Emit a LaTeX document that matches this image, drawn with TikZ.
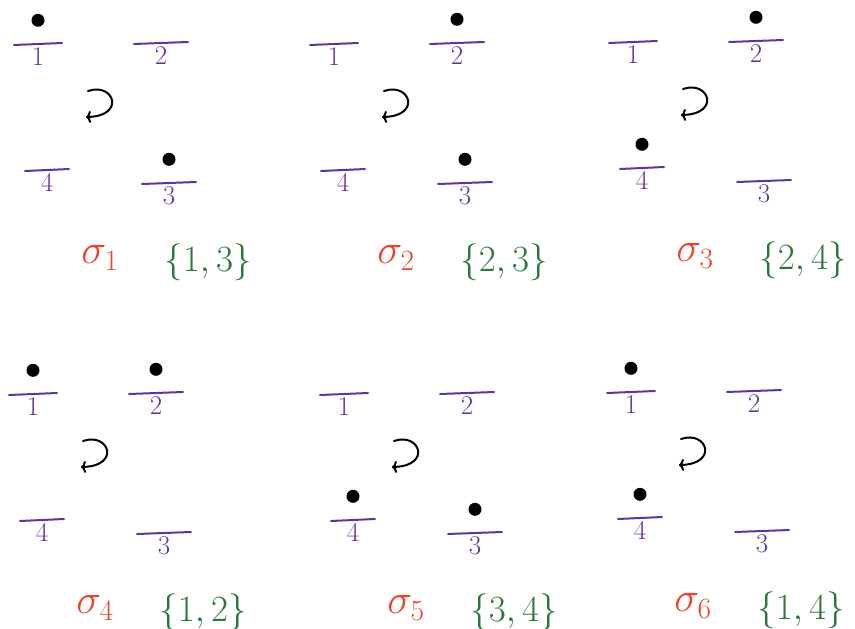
\RequirePackage{fix-cm}
\documentclass[tikz,border=0pt]{standalone}
\usepackage{amsmath}
\usepackage{tikz}
\usetikzlibrary{arrows.meta,positioning}
\definecolor{sitepurple}{RGB}{96,52,160}
\definecolor{sigmared}{RGB}{232,68,46}
\definecolor{setgreen}{RGB}{44,118,58}
\tikzset{
    site/.style={sitepurple,line width=2pt,line cap=round},
    sitelabel/.style={sitepurple,font=\fontsize{27}{32}\selectfont,inner sep=1pt},
    particle/.style={circle,fill=black,inner sep=0pt,minimum size=13pt},
    hop/.style={black,line width=2pt,line cap=round,-{To[length=5pt,width=12pt]}},
    perm/.style={sigmared,font=\fontsize{42}{48}\selectfont},
    occset/.style={setgreen,font=\fontsize{37}{44}\selectfont},
}

\begin{document}
\begin{tikzpicture}[x=1pt,y=-1pt]
    \useasboundingbox (0,0) rectangle (855,629);
    % panels: index / x offset / y offset / occupied sites
    \foreach \i/\ox/\oy/\da/\db in {1/0/0/1/3, 2/296/0/2/3, 3/595/-2/2/4,
                                    4/-5/350/1/2, 5/306/350/3/4, 6/593/348/1/4} {
        \begin{scope}[shift={(\ox,\oy)}]
        % the four sites (lines with their numbers)
        \foreach \s/\sx/\sy/\len in {1/38/44/48, 2/161/43/54, 3/169/183/54, 4/47/170/44} {
            \coordinate (p\i-s\s) at (\sx,\sy);
            \coordinate (p\i-s\s-a) at (\sx-\len/2,\sy+1);
            \coordinate (p\i-s\s-b) at (\sx+\len/2,\sy-1);
            \draw[site] (p\i-s\s-a) -- (p\i-s\s-b);
            \node[sitelabel,below=2pt] (p\i-n\s) at (p\i-s\s) {\s};
        }
        % particles on the occupied sites
        \foreach \s in {\da,\db} {
            \node[particle,above=17pt of p\i-s\s] (p\i-d\s) {};
        }
        % rotation sign
        \coordinate (p\i-r0) at (88,91);
        \coordinate (p\i-r1) at (86,117);
        \draw[hop] (p\i-r0) .. controls (114,82) and (126,116) .. (p\i-r1);
        % permutation and its occupied set
        \node[perm] (p\i-sig) at (100,258) {$\sigma_{\i}$};
        \node[occset] (p\i-set) at (208,262) {$\{\da,\db\}$};
        \end{scope}
    }
\end{tikzpicture}
\end{document}
